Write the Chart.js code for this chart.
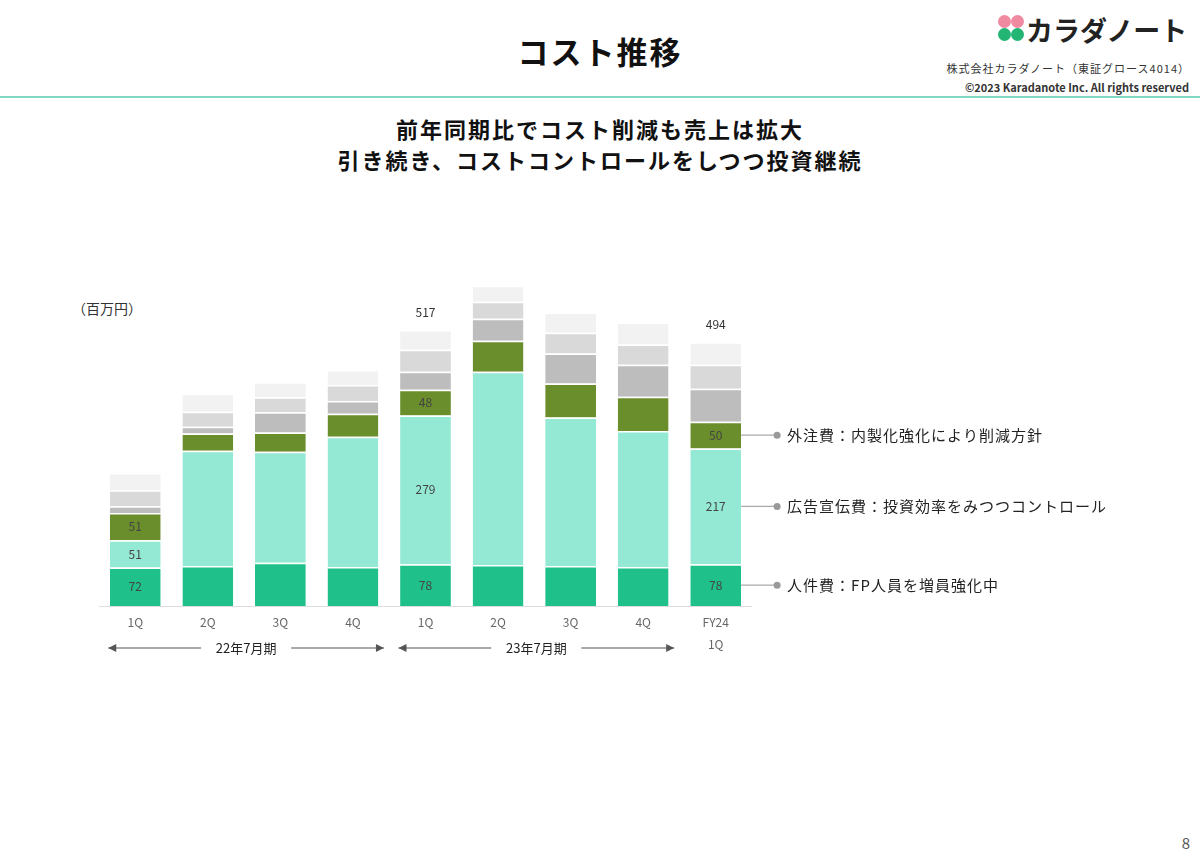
<!DOCTYPE html>
<html><head><meta charset="utf-8">
<script src="https://cdn.jsdelivr.net/npm/chart.js@4"></script>
<style>
body{margin:0;width:1200px;height:859px;background:#fff;font-family:"Noto Sans CJK JP","Noto Sans",sans-serif;position:relative;overflow:hidden}
.a{position:absolute;white-space:nowrap}
#c{position:absolute;left:0;top:0}
</style></head><body>
<div class="a" style="left:0;width:1200px;top:28px;text-align:center;font-size:31px;font-weight:bold;color:#111;letter-spacing:2px">コスト推移</div>
<div class="a" style="left:996px;top:10px;font-size:27px;font-weight:bold;color:#222"><span style="display:inline-block;width:30px;position:relative;height:30px;vertical-align:-4px"><i style="position:absolute;left:2px;top:0;width:13px;height:13px;border-radius:50%;background:#f08aa0"></i><i style="position:absolute;left:15px;top:0;width:13px;height:13px;border-radius:50%;background:#f08aa0"></i><i style="position:absolute;left:2px;top:13px;width:13px;height:13px;border-radius:50%;background:#22b573"></i><i style="position:absolute;left:15px;top:13px;width:13px;height:13px;border-radius:50%;background:#22b573"></i></span>カラダノート</div>
<div class="a" style="right:10px;top:60px;font-size:11px;color:#333;letter-spacing:1px">株式会社カラダノート（東証グロース4014）</div>
<div class="a" style="right:11px;top:79px;font-size:11px;color:#333;font-weight:bold">©2023 Karadanote Inc. All rights reserved</div>
<div class="a" style="left:0;top:96px;width:1200px;height:2px;background:#7fd6c2"></div>
<div class="a" style="left:0;width:1200px;top:113px;text-align:center;font-size:22px;font-weight:bold;color:#111;line-height:31px;letter-spacing:2px">前年同期比でコスト削減も売上は拡大<br>引き続き、コストコントロールをしつつ投資継続</div>
<div class="a" style="left:72px;top:298px;font-size:14px;color:#333">（百万円）</div>
<div class="a" style="right:10px;bottom:6px;font-size:15px;color:#555">8</div>
<canvas id="c" width="1200" height="859"></canvas>
<script>
const quarters = ["1Q","2Q","3Q","4Q","1Q","2Q","3Q","4Q","FY24\n1Q"];
const personnel = [72, 75, 81, 73, 78, 77, 75, 73, 78];
const ads = [51, 216, 208, 244, 279, 362, 278, 255, 217];
const outsourcing = [51, 32, 36, 43, 48, 58, 64, 64, 50];
const otherA = [13, 13, 38, 24, 34, 41, 56, 60, 62];
const otherB = [30, 28, 28, 30, 41, 32, 39, 38, 45];
const otherC = [32, 34, 28, 28, 37, 30, 38, 41, 42];
const totalLabels = [null, null, null, null, 517, null, null, null, 494];
const labelled = [0, 4, 8];
const notes = ["外注費：内製化強化により削減方針", "広告宣伝費：投資効率をみつつコントロール", "人件費：FP人員を増員強化中"];

const ds = (label, data, color) => ({label, data, backgroundColor: color, borderColor: "#fff", borderWidth: {top: 1.5}, borderSkipped: false, stack: "s"});

const overlay = {
  id: "overlay",
  afterDatasetsDraw(chart) {
    const c = chart.ctx, x = chart.scales.x, y = chart.scales.y;
    const base = y.getPixelForValue(0);
    c.save();
    c.strokeStyle = "#ddd"; c.lineWidth = 1;
    c.beginPath(); c.moveTo(x.left, base + 0.5); c.lineTo(x.right, base + 0.5); c.stroke();
    c.font = "12px 'Noto Sans CJK JP'"; c.textAlign = "center"; c.textBaseline = "middle";
    quarters.forEach((q, i) => {
      const px = x.getPixelForValue(i);
      c.fillStyle = "#666";
      q.split("\n").forEach((t, k) => c.fillText(t, px, base + 16 + k * 22));
    });
    // segment labels
    [[0, personnel], [1, ads], [2, outsourcing]].forEach(([d, arr]) => {
      const meta = chart.getDatasetMeta(d);
      labelled.forEach(i => {
        const b = meta.data[i];
        c.fillStyle = "#444";
        c.fillText(arr[i], b.x, (b.y + b.base) / 2);
      });
    });
    totalLabels.forEach((t, i) => {
      if (t == null) return;
      const top = chart.getDatasetMeta(5).data[i];
      c.fillStyle = "#333";
      c.fillText(t, top.x, top.y - 18);
    });
    // period arrows
    const arrow = (i0, i1, text) => {
      const l = x.getPixelForValue(i0) - 27, r = x.getPixelForValue(i1) + 31, yy = base + 42, m = (l + r) / 2;
      c.strokeStyle = "#555"; c.fillStyle = "#555"; c.lineWidth = 1.2;
      c.beginPath(); c.moveTo(l, yy); c.lineTo(m - 45, yy); c.moveTo(m + 45, yy); c.lineTo(r, yy); c.stroke();
      c.beginPath(); c.moveTo(l, yy); c.lineTo(l + 8, yy - 4); c.lineTo(l + 8, yy + 4); c.fill();
      c.beginPath(); c.moveTo(r, yy); c.lineTo(r - 8, yy - 4); c.lineTo(r - 8, yy + 4); c.fill();
      c.fillStyle = "#222"; c.font = "13px 'Noto Sans CJK JP'"; c.fillText(text, m, yy);
    };
    arrow(0, 3, "22年7月期");
    arrow(4, 7, "23年7月期");
    // annotations
    c.textAlign = "left"; c.font = "15px 'Noto Sans CJK JP'";
    if ("letterSpacing" in c) c.letterSpacing = "1px";
    [2, 1, 0].forEach((d, k) => {
      const b = chart.getDatasetMeta(d).data[8];
      const yy = (b.y + b.base) / 2, x0 = b.x + b.width / 2;
      c.strokeStyle = "#aaa"; c.lineWidth = 1.2;
      c.beginPath(); c.moveTo(x0, yy); c.lineTo(x0 + 36, yy); c.stroke();
      c.fillStyle = "#999"; c.beginPath(); c.arc(x0 + 36, yy, 3.5, 0, Math.PI * 2); c.fill();
      c.fillStyle = "#222"; c.fillText(notes[k], x0 + 46, yy);
    });
    c.restore();
  }
};

new Chart(document.getElementById("c"), {
  type: "bar",
  data: {
    labels: quarters,
    datasets: [
      ds("人件費", personnel, "#1fc08a"),
      ds("広告宣伝費", ads, "#94e9d4"),
      ds("外注費", outsourcing, "#6b8e2c"),
      ds("その他A", otherA, "#bdbdbd"),
      ds("その他B", otherB, "#d9d9d9"),
      ds("その他C", otherC, "#f2f2f2"),
    ],
  },
  options: {
    responsive: false,
    animation: false,
    layout: {padding: {left: 99, right: 448, top: 259, bottom: 253}},
    datasets: {bar: {categoryPercentage: 1, barPercentage: 0.7}},
    plugins: {legend: {display: false}, tooltip: {enabled: false}},
    scales: {
      x: {stacked: true, display: false},
      y: {stacked: true, display: false, min: 0, max: 650},
    },
  },
  plugins: [overlay],
});
</script>
</body></html>
